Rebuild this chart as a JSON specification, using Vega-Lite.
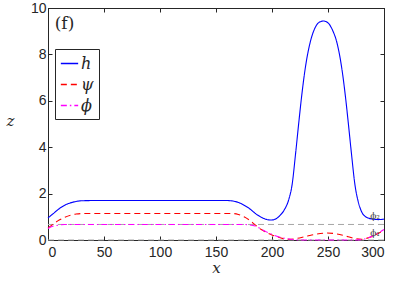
{
  "$schema": "https://vega.github.io/schema/vega-lite/v6.json",
  "width": 336,
  "height": 232,
  "autosize": {"type": "none"},
  "padding": {"left": 48, "top": 8, "right": 15, "bottom": 41},
  "background": "white",
  "config": {
    "view": {"stroke": "#262626", "strokeWidth": 1},
    "axis": {"grid": false, "domainColor": "#262626", "tickColor": "#262626", "labelColor": "#262626", "labelFont": "Liberation Sans", "labelFontSize": 14, "tickSize": -4, "titleFont": "DejaVu Serif", "titleFontStyle": "italic", "titleFontWeight": "normal", "titleFontSize": 15, "titleColor": "#262626"}
  },
  "datasets": {
    "lines": [
      {"x": 0, "z": 0.95, "s": "h"}, {"x": 5, "z": 1.15, "s": "h"}, {"x": 10, "z": 1.35, "s": "h"}, {"x": 15, "z": 1.5, "s": "h"}, {"x": 20, "z": 1.6, "s": "h"}, {"x": 25, "z": 1.66, "s": "h"}, {"x": 30, "z": 1.69, "s": "h"}, {"x": 40, "z": 1.7, "s": "h"}, {"x": 160, "z": 1.7, "s": "h"}, {"x": 165, "z": 1.68, "s": "h"}, {"x": 170, "z": 1.62, "s": "h"}, {"x": 175, "z": 1.5, "s": "h"}, {"x": 180, "z": 1.35, "s": "h"}, {"x": 185, "z": 1.15, "s": "h"}, {"x": 190, "z": 0.99, "s": "h"}, {"x": 195, "z": 0.89, "s": "h"}, {"x": 199, "z": 0.86, "s": "h"}, {"x": 203, "z": 0.9, "s": "h"}, {"x": 207, "z": 1.05, "s": "h"}, {"x": 211, "z": 1.3, "s": "h"}, {"x": 215, "z": 1.75, "s": "h"}, {"x": 218, "z": 2.4, "s": "h"}, {"x": 221, "z": 3.7, "s": "h"}, {"x": 224, "z": 5.1, "s": "h"}, {"x": 226, "z": 6.0, "s": "h"}, {"x": 230, "z": 7.5, "s": "h"}, {"x": 234, "z": 8.5, "s": "h"}, {"x": 238, "z": 9.1, "s": "h"}, {"x": 242, "z": 9.38, "s": "h"}, {"x": 246, "z": 9.44, "s": "h"}, {"x": 250, "z": 9.36, "s": "h"}, {"x": 254, "z": 9.05, "s": "h"}, {"x": 258, "z": 8.5, "s": "h"}, {"x": 262, "z": 7.5, "s": "h"}, {"x": 266, "z": 6.0, "s": "h"}, {"x": 268, "z": 5.1, "s": "h"}, {"x": 271, "z": 3.7, "s": "h"}, {"x": 274, "z": 2.4, "s": "h"}, {"x": 277, "z": 1.65, "s": "h"}, {"x": 280, "z": 1.22, "s": "h"}, {"x": 284, "z": 0.99, "s": "h"}, {"x": 290, "z": 0.9, "s": "h"}, {"x": 295, "z": 0.88, "s": "h"}, {"x": 300, "z": 0.9, "s": "h"},
      {"x": 0, "z": 0.52, "s": "ψ"}, {"x": 5, "z": 0.7, "s": "ψ"}, {"x": 10, "z": 0.86, "s": "ψ"}, {"x": 15, "z": 0.98, "s": "ψ"}, {"x": 20, "z": 1.07, "s": "ψ"}, {"x": 25, "z": 1.12, "s": "ψ"}, {"x": 30, "z": 1.14, "s": "ψ"}, {"x": 165, "z": 1.14, "s": "ψ"}, {"x": 170, "z": 1.1, "s": "ψ"}, {"x": 175, "z": 1.0, "s": "ψ"}, {"x": 180, "z": 0.85, "s": "ψ"}, {"x": 185, "z": 0.65, "s": "ψ"}, {"x": 190, "z": 0.46, "s": "ψ"}, {"x": 195, "z": 0.33, "s": "ψ"}, {"x": 200, "z": 0.22, "s": "ψ"}, {"x": 205, "z": 0.13, "s": "ψ"}, {"x": 210, "z": 0.06, "s": "ψ"}, {"x": 215, "z": 0.03, "s": "ψ"}, {"x": 220, "z": 0.05, "s": "ψ"}, {"x": 230, "z": 0.15, "s": "ψ"}, {"x": 240, "z": 0.26, "s": "ψ"}, {"x": 249, "z": 0.3, "s": "ψ"}, {"x": 258, "z": 0.26, "s": "ψ"}, {"x": 268, "z": 0.14, "s": "ψ"}, {"x": 275, "z": 0.05, "s": "ψ"}, {"x": 280, "z": 0.03, "s": "ψ"}, {"x": 285, "z": 0.08, "s": "ψ"}, {"x": 290, "z": 0.17, "s": "ψ"}, {"x": 295, "z": 0.29, "s": "ψ"}, {"x": 300, "z": 0.43, "s": "ψ"},
      {"x": 0, "z": 0.5, "s": "ϕ"}, {"x": 5, "z": 0.6, "s": "ϕ"}, {"x": 10, "z": 0.645, "s": "ϕ"}, {"x": 15, "z": 0.665, "s": "ϕ"}, {"x": 25, "z": 0.67, "s": "ϕ"}, {"x": 175, "z": 0.67, "s": "ϕ"}, {"x": 180, "z": 0.65, "s": "ϕ"}, {"x": 185, "z": 0.6, "s": "ϕ"}, {"x": 190, "z": 0.48, "s": "ϕ"}, {"x": 195, "z": 0.35, "s": "ϕ"}, {"x": 200, "z": 0.24, "s": "ϕ"}, {"x": 205, "z": 0.15, "s": "ϕ"}, {"x": 213, "z": 0.06, "s": "ϕ"}, {"x": 220, "z": 0.01, "s": "ϕ"}, {"x": 225, "z": 0.0, "s": "ϕ"}, {"x": 275, "z": 0.0, "s": "ϕ"}, {"x": 280, "z": 0.02, "s": "ϕ"}, {"x": 285, "z": 0.08, "s": "ϕ"}, {"x": 290, "z": 0.17, "s": "ϕ"}, {"x": 295, "z": 0.3, "s": "ϕ"}, {"x": 300, "z": 0.45, "s": "ϕ"}
    ],
    "refs": [{"z": 0.67, "label": "ϕ₂", "lz": 1.05}, {"z": 0.0, "label": "ϕ₁", "lz": 0.32}],
    "tag": [{"x": 6, "z": 9.3, "t": "(f)"}]
  },
  "layer": [
    {
      "data": {"name": "refs"},
      "mark": {"type": "rule", "color": "#a6a6a6", "strokeDash": [6, 4], "strokeWidth": 1},
      "encoding": {
        "y": {"field": "z", "type": "quantitative", "scale": {"domain": [0, 10], "nice": false}, "axis": {"values": [0, 2, 4, 6, 8, 10], "title": "z", "titleAngle": 0, "titleX": -38, "titleY": 120, "labelPadding": 6}}
      }
    },
    {
      "data": {"name": "lines"},
      "mark": {"type": "line", "strokeWidth": 1.1, "interpolate": "monotone"},
      "encoding": {
        "x": {"field": "x", "type": "quantitative", "scale": {"domain": [0, 300], "nice": false}, "axis": {"values": [0, 50, 100, 150, 200, 250, 300], "title": "x", "titlePadding": 1, "labelPadding": 9}},
        "y": {"field": "z", "type": "quantitative", "axis": null},
        "stroke": {"field": "s", "type": "nominal", "scale": {"domain": ["h", "ψ", "ϕ"], "range": ["#0000ff", "#ff0000", "#ff00ff"]},
          "legend": {"orient": "none", "legendX": 7, "legendY": 41, "title": null, "fillColor": "white", "strokeColor": "#262626", "padding": 5, "symbolType": "stroke", "symbolSize": 300, "symbolStrokeWidth": 1.5, "symbolOpacity": 1, "labelFont": "DejaVu Serif", "labelFontStyle": "italic", "labelFontSize": 16, "labelColor": "#262626", "rowPadding": 3, "labelOffset": 2,
            "encode": {"symbols": {"update": {"stroke": {"scale": "stroke", "field": "value"}, "strokeDash": {"scale": "strokeDash", "field": "value"}}}}}},
        "strokeDash": {"field": "s", "type": "nominal", "scale": {"domain": ["h", "ψ", "ϕ"], "range": [[1, 0], [6, 4], [6, 3, 1.5, 3]]},
          "legend": {"orient": "none", "legendX": 7, "legendY": 41, "title": null, "fillColor": "white", "strokeColor": "#262626", "padding": 5, "symbolType": "stroke", "symbolSize": 300, "symbolStrokeWidth": 1.5, "symbolOpacity": 1, "labelFont": "DejaVu Serif", "labelFontStyle": "italic", "labelFontSize": 16, "labelColor": "#262626", "rowPadding": 3, "labelOffset": 2,
            "encode": {"symbols": {"update": {"stroke": {"scale": "stroke", "field": "value"}, "strokeDash": {"scale": "strokeDash", "field": "value"}}}}}},
        "order": {"field": "x", "type": "quantitative"}
      }
    },
    {
      "data": {"name": "refs"},
      "mark": {"type": "text", "font": "DejaVu Serif", "fontSize": 9, "color": "#404040", "align": "center"},
      "encoding": {
        "x": {"datum": 292, "type": "quantitative", "axis": null},
        "y": {"field": "lz", "type": "quantitative", "axis": null},
        "text": {"field": "label"}
      }
    },
    {
      "data": {"name": "tag"},
      "mark": {"type": "text", "font": "DejaVu Serif", "fontSize": 17, "color": "#262626", "align": "left", "baseline": "middle"},
      "encoding": {
        "x": {"field": "x", "type": "quantitative", "axis": null},
        "y": {"field": "z", "type": "quantitative", "axis": null},
        "text": {"field": "t"}
      }
    },
    {
      "data": {"name": "tag"},
      "mark": {"type": "point", "opacity": 0},
      "encoding": {
        "x": {"field": "x", "type": "quantitative", "axis": {"orient": "top", "values": [0, 50, 100, 150, 200, 250, 300], "labels": false, "title": null}},
        "y": {"field": "z", "type": "quantitative", "axis": {"orient": "right", "values": [0, 2, 4, 6, 8, 10], "labels": false, "title": null}}
      }
    }
  ],
  "resolve": {"axis": {"x": "independent", "y": "independent"}}
}
